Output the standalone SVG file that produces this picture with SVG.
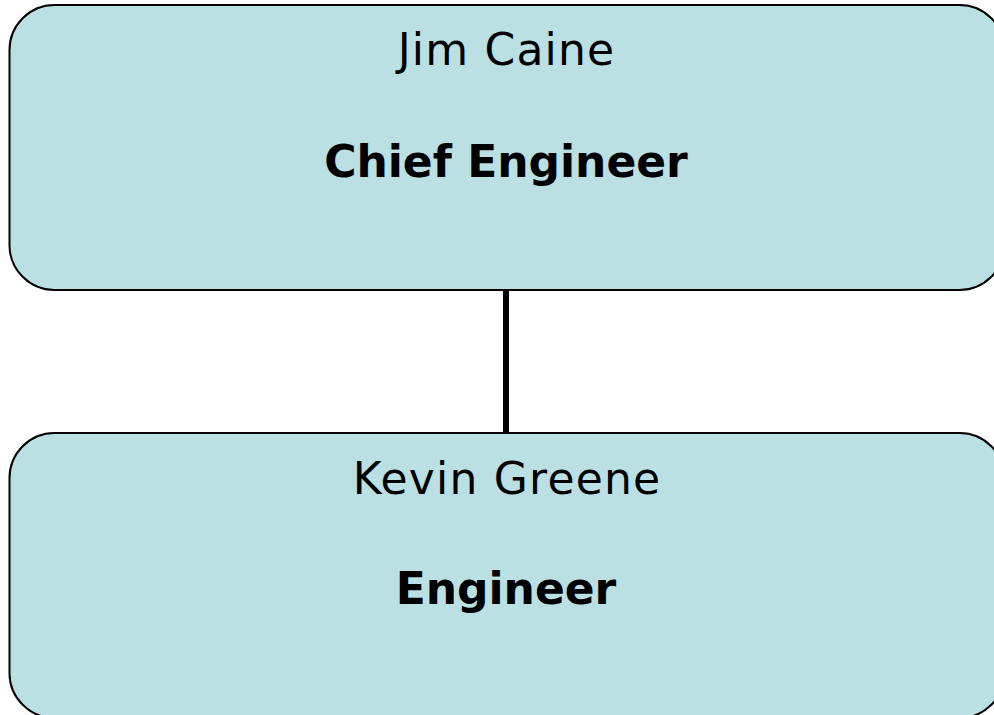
<svg xmlns="http://www.w3.org/2000/svg" width="994" height="715" viewBox="0 0 994 715">
  <style>
    .box { fill: #BBE0E3; stroke: #000000; stroke-width: 2; }
    .name { font-family: "DejaVu Sans", Verdana, sans-serif; font-size: 44px; letter-spacing: 1.2px; fill: #000000; text-anchor: middle; }
    .title { font-family: "DejaVu Sans", Verdana, sans-serif; font-size: 44px; font-weight: bold; fill: #000000; text-anchor: middle; }
    .conn { stroke: #000000; stroke-width: 6; fill: none; }
  </style>
  <rect width="994" height="715" fill="#FFFFFF"/>
  <g id="connectors">
    <line class="conn" x1="506" y1="290" x2="506" y2="433"/>
  </g>
  <g id="node-jim-caine">
    <rect class="box" x="9.5" y="5" width="995" height="285" rx="45" ry="45"/>
    <text class="name" x="506.5" y="65">Jim Caine</text>
    <text class="title" x="506" y="177">Chief Engineer</text>
  </g>
  <g id="node-kevin-greene">
    <rect class="box" x="9.5" y="433" width="995" height="285" rx="45" ry="45"/>
    <text class="name" x="507" y="494">Kevin Greene</text>
    <text class="title" x="506" y="604">Engineer</text>
  </g>
</svg>
